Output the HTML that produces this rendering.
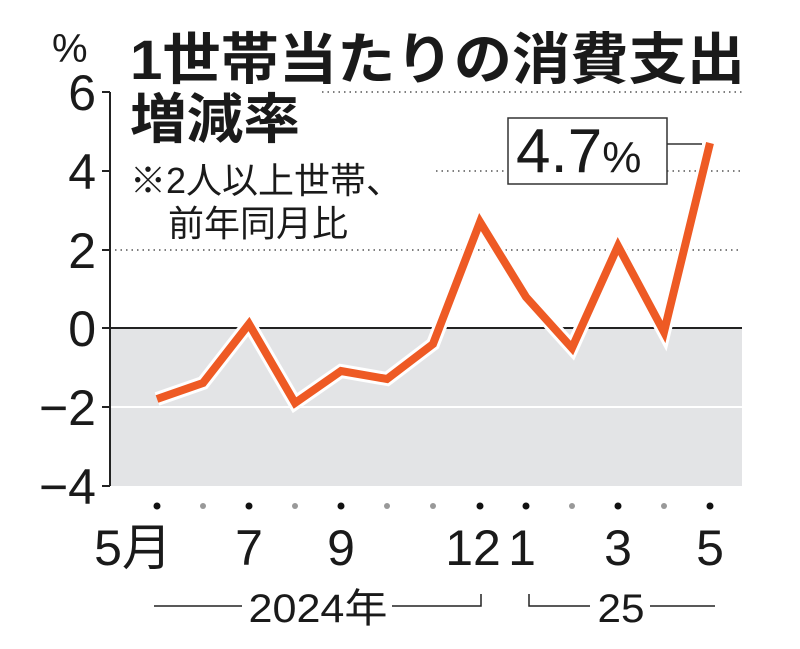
<!DOCTYPE html>
<html><head><meta charset="utf-8"><style>
html,body{margin:0;padding:0;background:#fff;}
svg{display:block;}
text{font-family:"Liberation Sans","Noto Sans CJK JP",sans-serif;fill:#1a1a1a;}
</style></head><body>
<svg width="800" height="649" viewBox="0 0 800 649">
<rect x="110" y="328" width="632" height="158" fill="#e3e4e6"/>
<line x1="110" y1="407" x2="742" y2="407" stroke="#fff" stroke-width="2"/>
<g stroke="#555" stroke-width="1.5" stroke-dasharray="1.5 4">
<line x1="322" y1="92" x2="742" y2="92"/>
<line x1="436" y1="171" x2="742" y2="171"/>
<line x1="115" y1="250" x2="742" y2="250"/>
</g>
<line x1="110" y1="328" x2="742" y2="328" stroke="#222" stroke-width="2"/>
<g stroke="#222" stroke-width="2">
<line x1="110" y1="92" x2="110" y2="486"/>
<line x1="102" y1="92" x2="110" y2="92"/><line x1="102" y1="171" x2="110" y2="171"/>
<line x1="102" y1="250" x2="110" y2="250"/><line x1="102" y1="328" x2="110" y2="328"/>
<line x1="102" y1="407" x2="110" y2="407"/><line x1="102" y1="486" x2="110" y2="486"/>
</g>
<g font-size="50" text-anchor="end">
<text x="96" y="110">6</text><text x="96" y="189">4</text><text x="96" y="268">2</text>
<text x="96" y="346">0</text><text x="96" y="425">−2</text><text x="96" y="504">−4</text>
</g>
<text x="52" y="62" font-size="40">%</text>
<text x="130" y="79" font-size="56" font-weight="bold" textLength="615" lengthAdjust="spacingAndGlyphs">1世帯当たりの消費支出</text>
<text x="130" y="138" font-size="54" font-weight="bold" textLength="170" lengthAdjust="spacingAndGlyphs">増減率</text>
<text x="130" y="193" font-size="36">※2人以上世帯、</text>
<text x="168" y="236" font-size="36">前年同月比</text>
<rect x="508" y="118" width="159" height="66" fill="#fff" stroke="#333" stroke-width="1.5"/>
<text x="516" y="172" font-size="62">4.7<tspan font-size="44">%</tspan></text>
<line x1="667" y1="144" x2="702" y2="144" stroke="#333" stroke-width="1.5"/>
<polyline points="157,399 203,383 249,324 295,403 341,371 387,379 433,344 480,222 526,297 572,348 618,246 664,332 710,143" fill="none" stroke="#fff" stroke-width="14" stroke-linejoin="miter"/>
<polyline points="157,399 203,383 249,324 295,403 341,371 387,379 433,344 480,222 526,297 572,348 618,246 664,332 710,143" fill="none" stroke="#ee5a24" stroke-width="8" stroke-linejoin="miter"/>
<g fill="#111">
<circle cx="157" cy="506" r="3.5"/><circle cx="249" cy="506" r="3.5"/><circle cx="341" cy="506" r="3.5"/>
<circle cx="480" cy="506" r="3.5"/><circle cx="526" cy="506" r="3.5"/><circle cx="618" cy="506" r="3.5"/><circle cx="710" cy="506" r="3.5"/>
</g>
<g fill="#999">
<circle cx="203" cy="506" r="3"/><circle cx="295" cy="506" r="3"/><circle cx="387" cy="506" r="3"/>
<circle cx="433" cy="506" r="3"/><circle cx="572" cy="506" r="3"/><circle cx="664" cy="506" r="3"/>
</g>
<g font-size="50" text-anchor="middle">
<text x="133" y="565">5月</text><text x="249" y="565">7</text><text x="341" y="565">9</text>
<text x="473" y="565">12</text><text x="522" y="565">1</text><text x="618" y="565">3</text><text x="710" y="565">5</text>
</g>
<g stroke="#222" stroke-width="1.5" fill="none">
<line x1="154" y1="606" x2="242" y2="606"/>
<polyline points="392,606 481,606 481,594"/>
<polyline points="529,594 529,606 590,606"/>
<line x1="650" y1="606" x2="715" y2="606"/>
</g>
<g font-size="40" text-anchor="middle">
<text x="318" y="622" textLength="139" lengthAdjust="spacingAndGlyphs">2024年</text>
<text x="621" y="622" textLength="47" lengthAdjust="spacingAndGlyphs">25</text>
</g>
</svg>
</body></html>
